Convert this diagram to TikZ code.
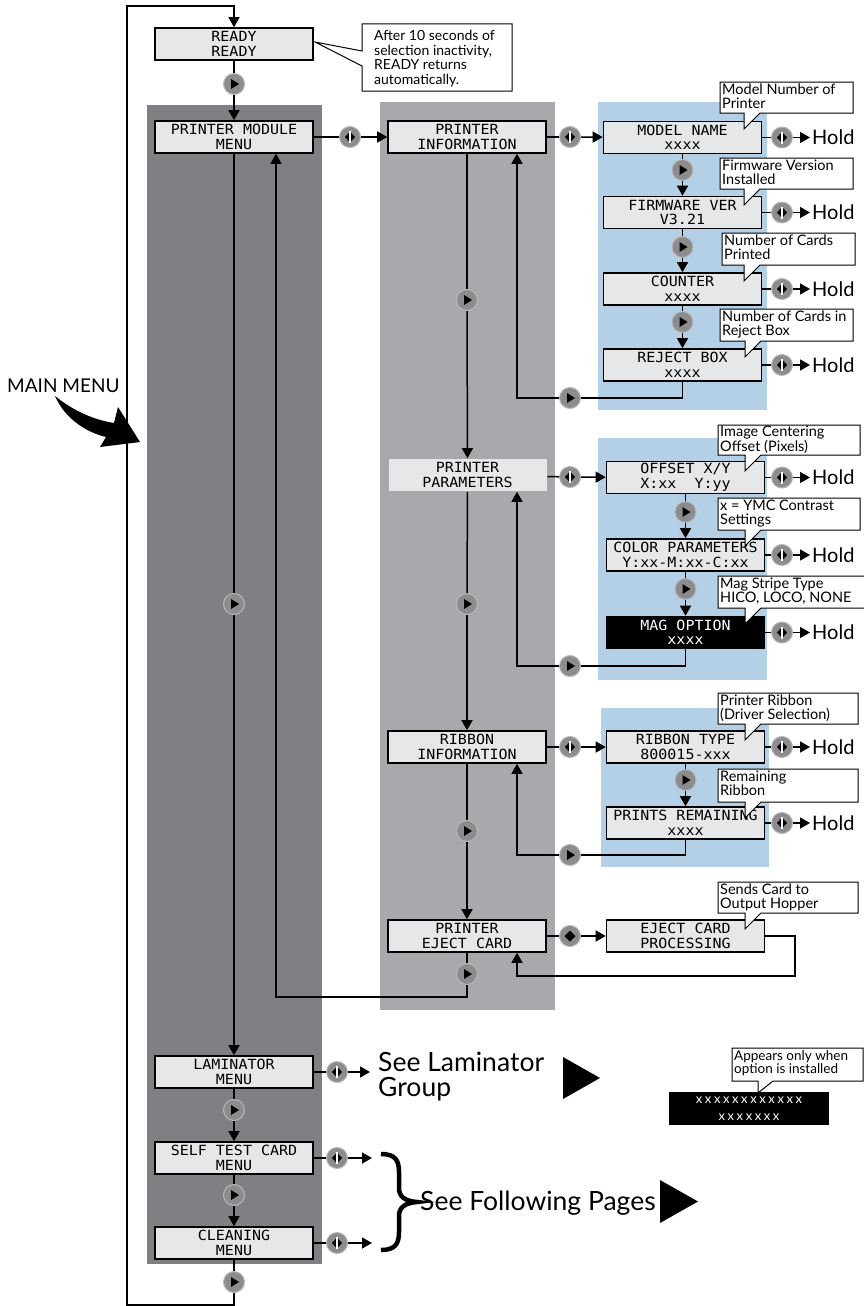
\documentclass[tikz,border=0pt]{standalone}
\usepackage{fontspec}
\setmainfont{Lato}
\newfontfamily\monofont[FakeStretch=1.07]{DejaVu Sans Mono}
\newfontfamily\spacedfont[LetterSpace=20]{Lato}
\usetikzlibrary{arrows.meta,calc}
\definecolor{darkpanel}{HTML}{808084}
\definecolor{midpanel}{HTML}{A7A9AC}
\definecolor{bluepanel}{HTML}{B4D0E6}
\definecolor{boxfill}{HTML}{E6E7E8}
\definecolor{btnfill}{HTML}{8C8C8E}
\definecolor{btnedge}{HTML}{B8B8BA}
\tikzset{
  lcd/.style={draw, line width=1.6pt, fill=boxfill, minimum width=158pt, minimum height=32pt,
    inner sep=0pt, align=center, font=\monofont\fontsize{14}{14.5}\selectfont},
  lcdblack/.style={lcd, fill=black, text=white},
  optstyle/.style={fill=black, text=white, minimum width=160pt, minimum height=33pt, inner sep=0pt,
    align=center, font=\spacedfont\fontsize{13}{17}\selectfont},
  btn/.style={circle, fill=btnfill, draw=btnedge, line width=1pt, minimum size=21pt, inner sep=0pt},
  playbtn/.style={btn, path picture={\fill[black,shift={(path picture bounding box.center)}] (-3,-5) -- (5,0) -- (-3,5) -- cycle;}},
  splitbtn/.style={btn, path picture={\fill[black,shift={(path picture bounding box.center)}] (-5,0) -- (0,-5.5) -- (5,0) -- (0,5.5) -- cycle;
     \draw[white,line width=1.2pt,shift={(path picture bounding box.center)}] (0,-6) -- (0,6);}},
  diambtn/.style={btn, path picture={\fill[black,shift={(path picture bounding box.center)}] (-5.5,0) -- (0,-5.5) -- (5.5,0) -- (0,5.5) -- cycle;}},
  conn/.style={line width=1.5pt},
  arr/.style={conn, -{Triangle[length=10pt,width=11pt]}},
  callbox/.style={draw, fill=white, line width=1pt},
  ctext/.style={anchor=north west, inner sep=0pt, align=left, font=\fontsize{14.5}{13.5}\selectfont},
  holdtxt/.style={anchor=west, inner sep=2pt, font=\fontsize{20}{20}\selectfont},
  bigtxt/.style={inner sep=0pt, align=left, font=\fontsize{26.5}{25}\selectfont}
}
\newcommand\calloutshape[5]{\draw[callbox] (#1,#2) -- (#3,#2) -- (#3,#4) -- ({#5+16},#4) -- (#5,{#4+16}) -- (#5,#4) -- (#1,#4) -- cycle;}
\begin{document}
\begin{tikzpicture}[x=1pt,y=-1pt]
\useasboundingbox (0,0) rectangle (864,1306);
% panels
\fill[darkpanel] (147,105) rectangle (322,1264);
\fill[midpanel] (380,102) rectangle (555,1010);
\fill[bluepanel] (598,102) rectangle (767,410);
\fill[bluepanel] (598,438) rectangle (767,680);
\fill[bluepanel] (601,708) rectangle (769,867);
% boxes
\node[lcd] (ready) at (234,44) {READY\\READY};
\node[lcd] (pmm) at (234,137) {PRINTER MODULE\\MENU};
\node[lcd] (pinfo) at (467,137) {PRINTER\\INFORMATION};
\node[lcd, draw=none] (pparam) at (467.5,475) {PRINTER\\PARAMETERS};
\node[lcd] (ribinfo) at (467,747) {RIBBON\\INFORMATION};
\node[lcd] (ejectmenu) at (467,936) {PRINTER\\EJECT CARD};
\node[lcd] (lam) at (234,1072) {LAMINATOR\\MENU};
\node[lcd] (selftest) at (234,1158) {SELF TEST CARD\\MENU};
\node[lcd] (clean) at (234,1243) {CLEANING\\MENU};
\node[lcd] (model) at (682.5,137.5) {MODEL NAME\\xxxx};
\node[lcd] (fw) at (682.5,212.5) {FIRMWARE VER\\V3.21};
\node[lcd] (counter) at (682.5,289) {COUNTER\\xxxx};
\node[lcd] (reject) at (682.5,365) {REJECT BOX\\xxxx};
\node[lcd] (offset) at (685.5,477.5) {OFFSET X/Y\\X:xx\ \ Y:yy};
\node[lcd] (color) at (685.5,555) {COLOR PARAMETERS\\Y:xx-M:xx-C:xx};
\node[lcdblack] (mag) at (685.5,632.5) {MAG OPTION\\xxxx};
\node[lcd] (ribtype) at (685.5,747) {RIBBON TYPE\\800015-xxx};
\node[lcd] (prints) at (685.5,823) {PRINTS REMAINING\\xxxx};
\node[lcd] (ejproc) at (685.5,936) {EJECT CARD\\PROCESSING};
\node[optstyle] (optbox) at (749,1108.5) {xxxxxxxxxxxx\\xxxxxxx};
% buttons
\node[playbtn] (b0) at (234,84) {};
\node[splitbtn] (bpm) at (350,137) {};
\node[splitbtn] (bpi) at (570,137) {};
\node[playbtn] (bm1) at (682.5,170) {};
\node[playbtn] (bm2) at (682.5,247) {};
\node[playbtn] (bm3) at (682.5,322) {};
\node[playbtn] (br1) at (570,398) {};
\node[playbtn] (bpi2) at (467,300) {};
\node[splitbtn] (bpp) at (570,477) {};
\node[playbtn] (bo1) at (685.5,512) {};
\node[playbtn] (bo2) at (685.5,589) {};
\node[playbtn] (br2) at (570,666) {};
\node[playbtn] (bpp2) at (467,604) {};
\node[splitbtn] (bri) at (570,747) {};
\node[playbtn] (bt1) at (685.5,780) {};
\node[playbtn] (br3) at (570,855) {};
\node[playbtn] (bri2) at (467,831) {};
\node[diambtn] (bej) at (570,936) {};
\node[playbtn] (bej2) at (467,974) {};
\node[playbtn] (bmain) at (234,604) {};
\node[playbtn] (bl1) at (234,1110) {};
\node[playbtn] (bl2) at (234,1195) {};
\node[playbtn] (bl3) at (234,1282) {};
\node[splitbtn] (blam) at (337,1072) {};
\node[splitbtn] (bst) at (337,1158) {};
\node[splitbtn] (bcl) at (337,1243) {};
% top chain
\draw[conn] (ready) -- (b0); \draw[arr] (b0) -- (pmm);
\draw[conn] (pmm) -- (bpm); \draw[arr] (bpm) -- (pinfo);
\draw[conn] (pinfo) -- (bpi); \draw[arr] (bpi) -- (model);
% information group
\draw[conn] (model) -- (bm1); \draw[arr] (bm1) -- (fw);
\draw[conn] (fw) -- (bm2); \draw[arr] (bm2) -- (counter);
\draw[conn] (counter) -- (bm3); \draw[arr] (bm3) -- (reject);
\coordinate (ret1) at (517,398);
\draw[conn] (reject.south) -- (reject.south |- br1) -- (br1);
\draw[arr] (br1) -- (ret1) -- (ret1 |- pinfo.south);
% middle column
\draw[conn] (pinfo) -- (bpi2); \draw[arr] (bpi2) -- (pparam);
\draw[conn] (pparam) -- (bpp2); \draw[arr] (bpp2) -- (ribinfo);
\draw[conn] (ribinfo) -- (bri2); \draw[arr] (bri2) -- (ejectmenu);
% parameters group
\draw[conn] (pparam) -- (bpp); \draw[arr] (bpp) -- (offset);
\draw[conn] (offset) -- (bo1); \draw[arr] (bo1) -- (color);
\draw[conn] (color) -- (bo2); \draw[arr] (bo2) -- (mag);
\coordinate (ret2) at (517,666);
\draw[conn] (mag.south) -- (mag.south |- br2) -- (br2);
\draw[arr] (br2) -- (ret2) -- (ret2 |- pparam.south);
% ribbon group
\draw[conn] (ribinfo) -- (bri); \draw[arr] (bri) -- (ribtype);
\draw[conn] (ribtype) -- (bt1); \draw[arr] (bt1) -- (prints);
\coordinate (ret3) at (517,855);
\draw[conn] (prints.south) -- (prints.south |- br3) -- (br3);
\draw[arr] (br3) -- (ret3) -- (ret3 |- ribinfo.south);
% eject
\draw[conn] (ejectmenu) -- (bej); \draw[arr] (bej) -- (ejproc);
\coordinate (ej1) at (795,976);
\coordinate (ret4) at (517,976);
\draw[arr] (ejproc.east) -- (ejproc.east -| ej1) -- (ej1) -- (ret4) -- (ret4 |- ejectmenu.south);
\coordinate (mr1) at (467,997);
\coordinate (mr2) at (276,997);
\draw[conn] (ejectmenu) -- (bej2);
\draw[arr] (bej2) -- (mr1) -- (mr2) -- (mr2 |- pmm.south);
% main column
\draw[conn] (pmm) -- (bmain); \draw[arr] (bmain) -- (lam);
\draw[conn] (lam) -- (bl1); \draw[arr] (bl1) -- (selftest);
\draw[conn] (selftest) -- (bl2); \draw[arr] (bl2) -- (clean);
\coordinate (lp1) at (234,1305);
\coordinate (lp2) at (127,1305);
\coordinate (lp3) at (127,6);
\coordinate (lp4) at (234,6);
\draw[conn] (clean) -- (bl3);
\draw[arr] (bl3) -- (lp1) -- (lp2) -- (lp3) -- (lp4) -- (ready);
% hold
\foreach \b/\n/\y in {model/1/137.5, fw/2/212.5, counter/3/289, reject/4/365, offset/5/477.5, color/6/555, mag/7/632.5, ribtype/8/747, prints/9/823}{
  \node[splitbtn] (h\n) at (782,\y) {};
  \node[holdtxt] (hold\n) at (810,\y) {Hold};
  \draw[conn] (\b) -- (h\n);
  \draw[arr] (h\n) -- (hold\n);
}
% laminator & following pages
\node[bigtxt, anchor=north west] (lamtxt) at (378,1052) {See Laminator\\Group};
\coordinate (la) at (370,1072);
\coordinate (sa) at (372,1158);
\coordinate (ca) at (372,1243);
\draw[conn] (lam) -- (blam); \draw[arr] (blam) -- (la);
\draw[conn] (selftest) -- (bst); \draw[arr] (bst) -- (sa);
\draw[conn] (clean) -- (bcl); \draw[arr] (bcl) -- (ca);
\fill (563,1057) -- (600,1078) -- (563,1099) -- cycle;
\draw[line width=4.5pt] (381,1154) .. controls (395,1154) and (399,1160) .. (399,1172) -- (399,1188) .. controls (399,1196) and (404,1201) .. (417,1202) .. controls (404,1203) and (399,1208) .. (399,1216) -- (399,1232) .. controls (399,1244) and (395,1250) .. (381,1250);
\node[bigtxt, anchor=base west] (fptxt) at (420,1210) {See Following Pages};
\fill (660,1180) -- (698,1201.5) -- (660,1223) -- cycle;
% main menu label
\node[anchor=base west, inner sep=0pt, font=\fontsize{19}{19}\selectfont] (mmtxt) at (7,392) {MAIN MENU};
\fill (55,396) .. controls (75,412) and (95,420) .. (114,423) -- (118,407) -- (140,442) -- (100,447) -- (106,437) .. controls (85,432) and (66,418) .. (57,400) -- cycle;
% callouts
\draw[callbox] (362,24) -- (512,24) -- (512,91) -- (362,91) -- (362,66) -- (315,42) -- (362,51) -- cycle;
\node[anchor=north west, inner sep=0pt, align=left, font=\fontsize{14}{14.5}\selectfont] (c0) at (374,30) {After 10 seconds of\\selection inactivity,\\READY returns\\automatically.};
\calloutshape{720}{82}{853}{113}{744}
\node[ctext] (c1) at (722,84) {Model Number of\\Printer};
\calloutshape{720}{158}{853}{189}{744}
\node[ctext] (c2) at (722,160) {Firmware Version\\Installed};
\calloutshape{722}{233}{855}{265}{744}
\node[ctext] (c3) at (724,235) {Number of Cards\\Printed};
\calloutshape{720}{309}{853}{341}{745}
\node[ctext] (c4) at (722,311) {Number of Cards in\\Reject Box};
\calloutshape{718}{425}{860}{455}{745}
\node[ctext] (c5) at (720,426) {Image Centering\\Offset (Pixels)};
\calloutshape{718}{498}{860}{530}{745}
\node[ctext] (c6) at (720,500) {x = YMC Contrast\\Settings};
\calloutshape{718}{576}{868}{608}{745}
\node[ctext] (c7) at (720,578) {Mag Stripe Type\\HICO, LOCO, NONE};
\calloutshape{718}{693}{858}{724}{745}
\node[ctext] (c8) at (720,695) {Printer Ribbon\\(Driver Selection)};
\calloutshape{718}{769}{858}{802}{745}
\node[ctext] (c9) at (720,771) {Remaining\\Ribbon};
\calloutshape{718}{882}{858}{913}{745}
\node[ctext] (c10) at (720,884) {Sends Card to\\Output Hopper};
\draw[callbox] (732,1048) -- (863,1048) -- (863,1081) -- (773,1081) -- (758,1093) -- (758,1081) -- (732,1081) -- cycle;
\node[anchor=north west, inner sep=0pt, align=left, font=\fontsize{13.5}{13}\selectfont] (c11) at (734,1050) {Appears only when\\option is installed};
\end{tikzpicture}
\end{document}
